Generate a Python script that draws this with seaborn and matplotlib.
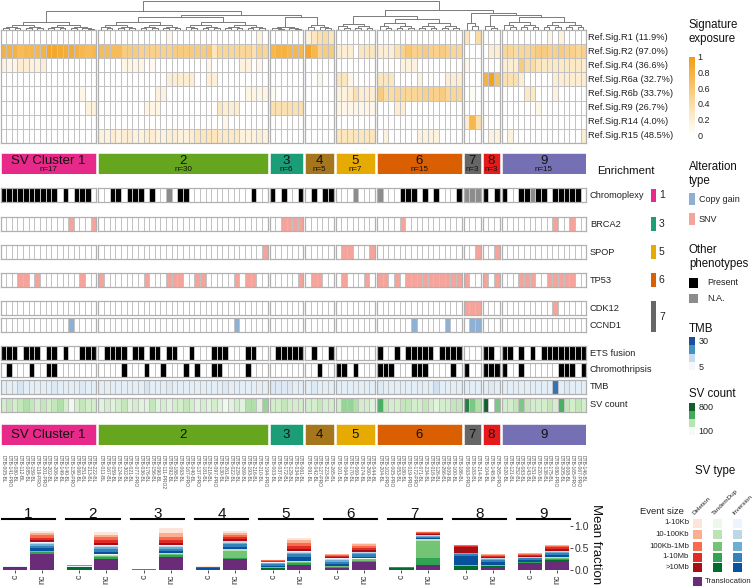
import numpy as np
import pandas as pd
import matplotlib
matplotlib.use("Agg")
import matplotlib.pyplot as plt
import seaborn as sns
from matplotlib.colors import LinearSegmentedColormap, ListedColormap, Normalize
from matplotlib.cm import ScalarMappable
from matplotlib.patches import Rectangle

sns.set_theme(style="white")
plt.rcParams["font.family"] = ["Liberation Sans", "DejaVu Sans"]

# ---------------- data ----------------
cluster_names = ["1", "2", "3", "4", "5", "6", "7", "8", "9"]
cluster_sizes = [17, 30, 6, 5, 7, 15, 3, 3, 15]
cluster_colors = ["#e7298a", "#66a61e", "#1b9e77", "#a6761d", "#e6ab02",
                  "#d95f02", "#666666", "#e41a1c", "#7570b3"]

sig_labels = ["Ref.Sig.R1 (11.9%)", "Ref.Sig.R2 (97.0%)", "Ref.Sig.R4 (36.6%)",
              "Ref.Sig.R6a (32.7%)", "Ref.Sig.R6b (33.7%)", "Ref.Sig.R9 (26.7%)",
              "Ref.Sig.R14 (4.0%)", "Ref.Sig.R15 (48.5%)"]

sig_R1 = ([0]*17 +
          [0]*12 + [0.1] + [0]*15 + [0.15, 0] +
          [0]*6 + [0.15, 0.3, 0.35, 0.4, 0.3] + [0]*7 + [0]*15 +
          [0.3, 0, 0.4] + [0]*3 + [0]*8 + [0.1, 0, 0.15, 0, 0, 0, 0])
sig_R2 = ([0.8, 0.8, 0.8, 0.7, 0.75, 0.75, 0.75, 0.8, 0.9, 0.9, 0.85, 0.85, 0.85, 0.8, 0.75, 0.7, 0.75] +
          [0.7, 0.7, 0.7, 0.7, 0.55, 0.55, 0.55, 0.5, 0.5, 0.5, 0.5, 0.5, 0.5, 0.55, 0.55, 0.55, 0.55,
           0.55, 0.55, 0.6, 0.3, 0.45, 0.45, 0.45, 0.45, 0.45, 0.45, 0.35, 0.5, 0.45] +
          [0.75, 0.8, 0.8, 0.75, 0.75, 0.75] + [0.9, 0.75, 0.5, 0.55, 0.55] +
          [0.2, 0.2, 0.2, 0, 0.3, 0.3, 0.3] +
          [0.2, 0.2, 0.2, 0.35, 0.5, 0.6, 0.5, 0.5, 0.55, 0.5, 0.5, 0.55, 0.5, 0.45, 0.45] +
          [0, 0, 0] + [0, 0.2, 0.2] +
          [0.45, 0.45, 0.4, 0.45, 0.45, 0.5, 0.55, 0.55, 0.5, 0.5, 0.55, 0.5, 0.5, 0.45, 0.5])
sig_R4 = ([0.15, 0.1, 0.1, 0.2, 0.2, 0.15, 0.15, 0.2] + [0]*9 +
          [0, 0, 0, 0, 0.12, 0.12, 0.12, 0.12, 0, 0.08, 0, 0, 0, 0, 0, 0, 0, 0, 0, 0.1,
           0, 0, 0, 0, 0, 0.15, 0.15, 0, 0.1, 0] +
          [0]*6 + [0]*5 + [0]*7 +
          [0, 0, 0, 0, 0.15, 0.15, 0.15, 0, 0, 0, 0, 0, 0, 0, 0] +
          [0.1, 0, 0] + [0]*3 +
          [0.2, 0.2, 0.2, 0.55, 0.4, 0.4, 0.3, 0.25, 0.25, 0.25, 0.25, 0.25, 0.25, 0.25, 0.2])
sig_R6a = ([0]*17 +
           [0]*12 + [0.2]*5 + [0, 0] + [0.18, 0.18] + [0]*9 +
           [0]*6 + [0, 0, 0.1, 0, 0] + [0.3, 0.3, 0.1, 0, 0, 0, 0] +
           [0.3, 0.3, 0.3, 0, 0, 0, 0, 0.15, 0, 0, 0, 0, 0.2, 0.2, 0.2] +
           [0]*3 + [0.8, 0.95, 0.65] +
           [0.35, 0.35, 0.35, 0.2, 0, 0, 0, 0, 0, 0.2, 0.2, 0.2, 0.2, 0.2, 0.2])
sig_R6b = ([0]*14 + [0.1, 0, 0] +
           [0]*10 + [0.15, 0.15] + [0]*14 + [0.12]*4 +
           [0.05, 0, 0, 0, 0, 0] + [0]*5 + [0.15, 0.15, 0.2, 0.35, 0.2, 0.2, 0.2] +
           [0.55, 0.4, 0.4, 0.45, 0.45, 0.45, 0.45, 0.45, 0.5, 0.5, 0.5, 0.55, 0.45, 0.45, 0.45] +
           [0, 0.05, 0] + [0]*3 +
           [0, 0, 0, 0, 0.25, 0.25, 0, 0, 0, 0.15, 0, 0, 0, 0, 0])
sig_R9 = ([0]*15 + [0.15, 0.15] +
          [0]*8 + [0.12]*3 + [0]*10 + [0.3, 0.2, 0.2, 0.2] + [0]*5 +
          [0.35]*6 + [0]*5 + [0.1]*7 +
          [0, 0, 0, 0.2, 0.2] + [0]*10 +
          [0]*3 + [0]*3 + [0]*6 + [0.1] + [0]*8)
sig_R14 = ([0]*17 + [0]*22 + [0.1] + [0]*7 + [0]*6 + [0]*5 + [0]*7 + [0]*15 +
           [0.2, 0.75, 0.35] + [0]*3 + [0]*15)
sig_R15 = ([0]*17 +
           [0.15, 0.15, 0.2, 0.15, 0.2, 0.2, 0.15, 0.15, 0.2, 0.2, 0.15, 0.15, 0.2, 0.2, 0.15, 0.15, 0.2,
            0.3, 0.3, 0.3, 0.3, 0.25, 0.25, 0.25, 0.25, 0.15, 0.15, 0.15, 0.2, 0.15] +
           [0]*6 + [0]*5 + [0.3]*7 +
           [0, 0.15, 0, 0, 0, 0, 0, 0.15, 0.15, 0.15, 0.15, 0, 0, 0, 0] +
           [0]*3 + [0, 0.15, 0.15] + [0, 0.15] + [0]*12 + [0.2])

# alteration codes: 0 none, 1 SNV, 2 copy gain, 3 present, 4 N.A.
alt_labels = ["Chromoplexy", "BRCA2", "SPOP", "TP53", "CDK12", "CCND1",
              "ETS fusion", "Chromothripsis"]
chromoplexy = ([3]*10 + [0, 3, 0, 3, 3, 3, 0] +
               [0, 0, 3, 3, 0, 3, 3, 3, 0, 3, 0, 0, 4, 0, 3, 3, 0, 0, 0, 0, 0, 0, 0, 0, 0, 0, 0, 3, 0, 0] +
               [3, 0, 3, 0, 0, 3] + [0, 3, 0, 3, 3] + [0, 0, 0, 4, 0, 0, 0] +
               [4, 0, 0, 0, 3, 3, 3, 0, 3, 0, 3, 0, 0, 0, 3] + [4, 4, 4] + [3, 0, 3] +
               [3, 0, 0, 3, 3, 4, 3, 3, 0, 3, 3, 3, 3, 3, 0])
brca2 = ([0]*12 + [1, 0, 0, 0, 1] + [0]*30 + [0, 0, 1, 1, 1, 1] + [0]*5 + [0]*7 +
         [0, 0, 0, 0, 1] + [0]*10 + [0]*3 + [0]*3 + [0]*9 + [1, 0, 0, 1, 0, 0])
spop = ([0]*17 + [0]*29 + [1] + [0]*6 + [0]*5 + [0, 1, 1, 0, 0, 0, 1] + [0]*15 +
        [0, 0, 1] + [0, 0, 1] + [0]*15)
tp53 = ([0, 0, 0, 1, 1, 0, 1, 0, 0, 0, 0, 0, 0, 0, 1, 0, 0] +
        [1, 0, 0, 0, 0, 0, 0, 0, 1, 0, 0, 0, 1, 1, 1, 0, 0, 1, 1, 0, 0, 0, 0, 0, 1, 0, 1, 1, 0, 0] +
        [0, 0, 0, 0, 0, 1] + [0, 1, 1, 0, 0] + [0, 1, 0, 0, 0, 1, 0] +
        [1, 1, 0, 1, 0, 1, 1, 1, 1, 1, 1, 1, 1, 1, 1] + [1, 0, 0] + [1, 0, 1] +
        [0, 0, 0, 1, 1, 1, 0, 0, 1, 1, 1, 1, 1, 0, 0])
cdk12 = ([0]*17 + [0]*30 + [0]*6 + [0]*5 + [0]*7 + [0]*15 + [1, 1, 1] + [0]*3 +
         [0]*9 + [1] + [0]*5)
ccnd1 = ([0]*12 + [2] + [0]*4 + [0]*24 + [2] + [0]*5 + [0]*6 + [0]*5 + [0]*7 +
         [0]*6 + [2] + [0]*5 + [2] + [0, 0] + [0, 2, 2] + [0]*3 + [0]*15)
ets = ([3, 3, 3, 0, 3, 3, 3, 0, 3, 3, 0, 3, 0, 0, 3, 3, 3] +
       [0, 3, 3, 3, 3, 0, 3, 3, 0, 3, 3, 0, 3, 3, 0, 0, 3, 0, 0, 0, 3, 3, 3, 0, 0, 0, 3, 3, 0, 0] +
       [0, 3, 3, 3, 3, 3] + [0, 3, 0, 0, 3] + [0]*7 +
       [3, 0, 0, 3, 0, 3, 3, 3, 3, 3, 0, 3, 3, 3, 3] + [0, 0, 0] + [3, 3, 0] +
       [3, 3, 0, 3, 0, 3, 0, 3, 3, 3, 3, 3, 3, 3, 3])
chromothripsis = ([0, 3, 0, 0, 0, 3, 0, 0, 3, 3, 0, 0, 0, 0, 0, 0, 0] +
                  [0, 0, 0, 0, 3, 0, 0, 0, 3, 0, 0, 3, 0, 0, 0, 3, 0, 3, 0, 0, 3, 3, 0, 0, 0, 0, 3, 0, 0, 0] +
                  [0]*6 + [0, 0, 3, 0, 0] + [3, 3, 0, 3, 0, 0, 0] +
                  [3, 3, 3, 0, 0, 0, 3, 3, 3, 0, 0, 0, 0, 3, 0] + [3, 0, 0] + [3, 3, 3] +
                  [3, 0, 0, 3, 0, 0, 0, 0, 0, 0, 3, 3, 3, 0, 3])
tmb = ([9, 9, 9, 11, 9, 9, 9, 9, 9, 10, 9, 9, 9, 9, 10, 9, 9] +
       [9, 9, 9, 9, 9, 9, 9, 9, 11, 9, 9, 9, 10, 9, 9, 9, 9, 9, 9, 9, 9, 9, 10, 9, 9, 9, 9, 9, 9, 9] +
       [10, 10, 10, 10, 9, 9] + [9, 10, 9, 9, 9] + [9, 9, 9, 9, 9, 9, 9] +
       [10, 9, 9, 9, 9, 9, 9, 9, 9, 9, 12, 9, 9, 9, 9] + [9, 9, 9] + [9, 10, 9] +
       [9, 9, 9, 9, 9, 9, 9, 9, 9, 25, 9, 10, 9, 9, 9])
sv_count = ([250, 300, 250, 300, 350, 300, 250, 300, 250, 300, 350, 250, 150, 250, 300, 250, 250] +
            [200, 250, 200, 250, 300, 200, 250, 200, 200, 300, 200, 250, 200, 250, 250, 300, 250, 200,
             250, 200, 250, 200, 150, 200, 250, 200, 350, 350, 200, 400] +
            [250, 250, 300, 250, 250, 250] + [250, 250, 300, 250, 250] +
            [250, 400, 400, 350, 250, 250, 200] +
            [550, 300, 250, 250, 300, 300, 250, 250, 300, 250, 200, 250, 250, 300, 300] +
            [700, 450, 350] + [800, 100, 450] +
            [250, 250, 300, 450, 300, 250, 250, 250, 300, 250, 550, 300, 250, 300, 250])

sample_ids = ["DTB-005-BL", "DTB-141-PRO", "DTB-080-BL", "DTB-112-BL", "DTB-085-BL", "DTB-159-BL",
              "DTB-119-PRO", "DTB-201-PRO", "DTB-202-BL", "DTB-206-BL", "DTB-149-BL", "DTB-140-BL",
              "DTB-135-PRO", "DTB-060-BL", "DTB-251-BL", "DTB-213-BL", "DTB-222-BL",
              "DTB-011-BL", "DTB-167-BL", "DTB-059-BL", "DTB-124-BL", "DTB-302-BL", "DTB-021-BL",
              "DTB-077-PRO", "DTB-036-BL", "DTB-176-BL", "DTB-156-BL", "DTB-090-BL", "DTB-111-PRO2",
              "DTB-092-BL", "DTB-188-BL", "DTB-063-BL", "DTB-167-PRO", "DTB-040-BL", "DTB-137-PRO",
              "DTB-181-BL", "DTB-218-BL", "DTB-097-PRO", "DTB-130-BL", "DTB-261-BL", "DTB-022-BL",
              "DTB-229-BL", "DTB-269-BL", "DTB-193-BL", "DTB-216-BL", "DTB-210-BL", "DTB-194-PRO",
              "DTB-003-BL", "DTB-037-BL", "DTB-172-BL", "DTB-129-BL", "DTB-034-BL", "DTB-061-BL",
              "DTB-091-BL", "DTB-042-BL", "DTB-127-PRO", "DTB-223-BL", "DTB-265-BL",
              "DTB-101-BL", "DTB-064-BL", "DTB-170-BL", "DTB-069-BL", "DTB-074-BL", "DTB-260-BL",
              "DTB-044-BL",
              "DTB-204-BL", "DTB-102-PRO", "DTB-005-PRO", "DTB-053-BL", "DTB-180-BL", "DTB-019-PRO",
              "DTB-172-PRO", "DTB-071-BL", "DTB-234-BL", "DTB-018-BL", "DTB-126-BL", "DTB-266-BL",
              "DTB-009-BL", "DTB-100-BL", "DTB-186-BL",
              "DTB-063-PRO", "DTB-183-BL", "DTB-214-BL",
              "DTB-104-BL", "DTB-148-BL", "DTB-265-PRO",
              "DTB-020-BL", "DTB-121-BL", "DTB-252-BL", "DTB-083-BL", "DTB-143-BL", "DTB-151-BL",
              "DTB-220-BL", "DTB-138-BL", "DTB-175-BL", "DTB-080-PRO", "DTB-205-BL", "DTB-008-BL",
              "DTB-165-PRO", "DTB-067-PRO", "DTB-146-BL"]

# bottom panel: mean fraction per SV class; order c1,nc1,c2,nc2,...,c9,nc9
translocation = [.04, .36, .03, .23, .005, .29, .02, .23, .03, .10, .04, .17, .03, .10, .01, .06, .15, .20]
tan_gt10M = [.003, .01, .005, .02, .001, .01, .002, .01, .01, .01, .01, .01, .005, .02, .07, .02, .01, .015]
tan_1_10M = [.003, .03, .005, .04, .001, .04, .003, .03, .01, .04, .015, .03, .005, .16, .02, .02, .01, .03]
tan_100k_1M = [.002, .025, .005, .035, .001, .03, .003, .16, .01, .03, .015, .03, .005, .38, .007, .01, .01, .025]
tan_10_100k = [.001, .01, .003, .02, 0, .015, .001, .04, .007, .02, .007, .015, .003, .03, .002, .007, .007, .015]
tan_1_10k = [.001, .005, .002, .005, 0, .005, .001, .01, .003, .01, .003, .005, .002, .01, .001, .003, .003, .005]
inv_gt10M = [.008, .05, .008, .05, .002, .04, .005, .04, .03, .08, .05, .04, .005, .02, .2, .05, .04, .04]
inv_1_10M = [.008, .06, .01, .07, .002, .05, .006, .06, .03, .06, .05, .05, .005, .03, .05, .05, .03, .05]
inv_100k_1M = [.007, .04, .006, .05, .002, .04, .005, .04, .02, .04, .04, .03, .003, .025, .02, .03, .02, .035]
inv_10_100k = [.004, .03, .004, .03, .001, .025, .002, .025, .015, .02, .02, .02, .001, .015, .007, .015, .012, .015]
inv_1_10k = [.003, .02, .002, .02, 0, .015, .002, .015, .005, .01, .01, .01, .001, .01, .003, .005, .008, .01]
del_gt10M = [.004, .03, .01, .04, .001, .04, .005, .03, .015, .05, .025, .04, .003, .01, .14, .02, .02, .03]
del_1_10M = [.005, .05, .01, .07, .001, .07, .01, .05, .02, .08, .03, .05, .003, .02, .02, .03, .025, .04]
del_100k_1M = [.005, .06, .01, .07, .001, .07, .008, .06, .01, .07, .025, .05, .002, .02, .01, .02, .02, .03]
del_10_100k = [.003, .05, .006, .05, .001, .10, .004, .04, .008, .05, .012, .03, .001, .01, .005, .01, .01, .02]
del_1_10k = [.003, .04, .004, .05, .001, .10, .003, .03, .007, .05, .008, .02, .001, .01, .005, .01, .005, .01]
group_labels = ["c", "nc"]

size_labels = ["1-10Kb", "10-100Kb", "100Kb-1Mb", "1-10Mb", ">10Mb"]
del_colors = ["#fee5d9", "#fcae91", "#fb6a4a", "#de2d26", "#a50f15"]
tan_colors = ["#edf8e9", "#bae4b3", "#74c476", "#31a354", "#006d2c"]
inv_colors = ["#eff3ff", "#bdd7e7", "#6baed6", "#3182bd", "#08519c"]
trans_color = "#6a2c79"

# dendrogram (cluster level): [height_px, left, right]; leaves ['c', idx, height_px]
dend_tree = [0.8,
             [11, ["c", 0, 22], [15, ["c", 1, 17], [16.5, ["c", 2, 27], ["c", 3, 25]]]],
             [10, [16, ["c", 4, 24], ["c", 5, 19]],
              [13, ["c", 6, 23], [15, ["c", 7, 26], ["c", 8, 17]]]]]

# ---------------- layout ----------------
W, H = 753, 587
fig = plt.figure(figsize=(W / 100, H / 100), dpi=100)


def add_ax(x0, y0, w, h):
    return fig.add_axes([x0 / W, 1 - (y0 + h) / H, w / W, h / H])


X0, COLW, GAP = 0.5, 5.64, 2.0
starts = np.concatenate([[0], np.cumsum(cluster_sizes)[:-1]])
cl_x = [X0 + s * COLW + k * GAP for k, s in enumerate(starts)]
col_cluster = np.repeat(np.arange(9), cluster_sizes)
col_center = np.array([X0 + (i + 0.5) * COLW + col_cluster[i] * GAP for i in range(101)])
total_w = cl_x[-1] + cluster_sizes[-1] * COLW - X0

grid_col = "#c2c2c2"


def heat_block(mat, y0, h, cmap, vmin, vmax):
    mat = np.asarray(mat, dtype=float)
    if mat.ndim == 1:
        mat = mat[None, :]
    for k in range(9):
        a, n = starts[k], cluster_sizes[k]
        ax = add_ax(cl_x[k], y0, n * COLW, h)
        sns.heatmap(mat[:, a:a + n], ax=ax, cmap=cmap, vmin=vmin, vmax=vmax, cbar=False,
                    linewidths=0.6, linecolor=grid_col, xticklabels=False, yticklabels=False)
        for s in ax.spines.values():
            s.set_visible(True)
            s.set_color("#b0b0b0")
            s.set_linewidth(0.9)


sig_cmap = LinearSegmentedColormap.from_list("sig", ["#ffffff", "#fbe3b5", "#f7c063", "#f39c12"])
alt_cmap = ListedColormap(["#ffffff", "#f4a49a", "#8fb0d6", "#000000", "#8c8c8c"])
tmb_cmap = LinearSegmentedColormap.from_list("tmb", ["#ffffff", "#c6dbef", "#3f8fd0", "#1a4e9c"])
sv_cmap = LinearSegmentedColormap.from_list("sv", ["#ffffff", "#b9e3b0", "#41ab5d", "#11602c"])

# signature heatmap
sig_mat = np.array([sig_R1, sig_R2, sig_R4, sig_R6a, sig_R6b, sig_R9, sig_R14, sig_R15])
assert sig_mat.shape == (8, 101)
SIG_TOP, SIG_ROWH = 30, 14.1
heat_block(sig_mat, SIG_TOP, 8 * SIG_ROWH, sig_cmap, 0, 1)

# alteration rows
alt_rows = [chromoplexy, brca2, spop, tp53, cdk12, ccnd1, ets, chromothripsis]
alt_tops = [188, 217, 245, 273, 301, 318, 346, 362.5]
for row, top in zip(alt_rows, alt_tops):
    assert len(row) == 101
    heat_block(row, top, 14, alt_cmap, -0.5, 4.5)
assert len(tmb) == 101 and len(sv_count) == 101
heat_block(tmb, 379.5, 14, tmb_cmap, 5, 30)
heat_block(sv_count, 397.5, 14, sv_cmap, 100, 800)

# dendrogram
ax_d = add_ax(X0, 0, total_w, 30)
ax_d.set_xlim(X0, X0 + total_w)
ax_d.set_ylim(30, 0)
ax_d.axis("off")
LEAF_Y = 30
dcol = "#7a7a7a"


def link(ax, yn, c1, c2):
    (x1, y1), (x2, y2) = c1, c2
    ax.plot([x1, x1, x2, x2], [y1, yn, yn, y2], color=dcol, lw=0.7, solid_capstyle="butt")
    return ((x1 + x2) / 2, yn)


def sub_tree(ax, cols, ytop):
    if len(cols) == 1:
        return (col_center[cols[0]], LEAF_Y)
    m = len(cols) // 2
    ych = ytop + (LEAF_Y - ytop) * 0.4
    left = sub_tree(ax, cols[:m], ych)
    right = sub_tree(ax, cols[m:], ych)
    return link(ax, ytop, left, right)


def draw_tree(ax, node):
    if node[0] == "c":
        k = node[1]
        cols = list(range(starts[k], starts[k] + cluster_sizes[k]))
        return sub_tree(ax, cols, node[2])
    yn, l, r = node
    return link(ax, yn, draw_tree(ax, l), draw_tree(ax, r))


draw_tree(ax_d, dend_tree)

# cluster bars
for yb, with_n in [(153, True), (424, False)]:
    ax_c = add_ax(X0, yb, total_w, 21)
    widths = [n * COLW for n in cluster_sizes]
    ax_c.bar(cl_x, 1, width=widths, align="edge", color=cluster_colors, edgecolor="white", linewidth=0.4)
    ax_c.set_xlim(X0, X0 + total_w)
    ax_c.set_ylim(1, 0)
    ax_c.axis("off")
    for k in range(9):
        xc = cl_x[k] + widths[k] / 2
        name = "SV Cluster 1" if k == 0 else cluster_names[k]
        if with_n:
            ax_c.text(xc, 0.36, name, ha="center", va="center", fontsize=9.5, color="#111111")
            ax_c.text(xc, 0.8, "n=%d" % cluster_sizes[k], ha="center", va="center", fontsize=5.8, color="#111111")
        else:
            ax_c.text(xc, 0.52, name, ha="center", va="center", fontsize=9.5, color="#111111")

# overlay for labels and legends (pixel coordinates)
ax_o = fig.add_axes([0, 0, 1, 1])
ax_o.set_xlim(0, W)
ax_o.set_ylim(H, 0)
ax_o.axis("off")

for i, lab in enumerate(sig_labels):
    ax_o.text(588, SIG_TOP + SIG_ROWH * (i + 0.5), lab, fontsize=6.7, va="center", ha="left", color="#222222")
for lab, top in zip(alt_labels + ["TMB", "SV count"], alt_tops + [379.5, 397.5]):
    ax_o.text(590, top + 7.3, lab, fontsize=6.7, va="center", ha="left", color="#222222")

# sample ids
for i, sid in enumerate(sample_ids):
    ax_o.text(col_center[i], 455, sid, rotation=270, fontsize=3.6, ha="center", va="top", color="#555555")

# enrichment
ax_o.text(597, 171, "Enrichment", fontsize=8.2, va="center", ha="left", color="#111111")
for (y0, y1, k) in [(189, 201.5, 0), (217, 231, 2), (245, 259, 4), (273, 287, 5), (301, 332, 6)]:
    ax_o.add_patch(Rectangle((651, y0), 5, y1 - y0, color=cluster_colors[k], lw=0))
    ax_o.text(659, (y0 + y1) / 2, cluster_names[k], fontsize=7.5, va="center", ha="left", color="#222222")

# legends
lf = 8.3
ax_o.text(689, 32, "Signature\nexposure", fontsize=lf, va="center", ha="left", linespacing=1.2, color="#111111")
cax = add_ax(689, 57, 6, 78)
cb = fig.colorbar(ScalarMappable(Normalize(0, 1), sig_cmap), cax=cax, ticks=[0, .2, .4, .6, .8, 1])
cb.ax.set_yticklabels(["0", "0.2", "0.4", "0.6", "0.8", "1"])
cb.ax.tick_params(length=0, labelsize=6.5, pad=2, colors="#222222")
cb.outline.set_visible(False)

ax_o.text(689, 174, "Alteration\ntype", fontsize=lf, va="center", ha="left", linespacing=1.15, color="#111111")
for y0, col, lab in [(193, "#8fb0d6", "Copy gain"), (213, "#f4a49a", "SNV")]:
    ax_o.add_patch(Rectangle((689, y0), 6, 12, color=col, lw=0))
    ax_o.text(699, y0 + 6, lab, fontsize=6.5, va="center", ha="left", color="#222222")
ax_o.text(689, 257, "Other\nphenotypes", fontsize=lf, va="center", ha="left", linespacing=1.15, color="#111111")
for y0, col, lab in [(278, "#000000", "Present"), (293.5, "#8c8c8c", "N.A.")]:
    ax_o.add_patch(Rectangle((689, y0), 9, 9.5, color=col, lw=0))
    ax_o.text(707, y0 + 4.8, lab, fontsize=6.5, va="center", ha="left", color="#222222")

ax_o.text(689, 329, "TMB", fontsize=lf, va="center", ha="left", color="#111111")
cax2 = add_ax(689, 337, 6, 33)
cb2 = fig.colorbar(ScalarMappable(Normalize(5, 30), ListedColormap(["#f4f8fc", "#c6dbef", "#4292c6", "#1f4e9c"])),
                   cax=cax2, ticks=[])
cb2.outline.set_visible(False)
ax_o.text(698.5, 342, "30", fontsize=6.5, va="center", ha="left", color="#222222")
ax_o.text(698.5, 367, "5", fontsize=6.5, va="center", ha="left", color="#222222")

ax_o.text(689, 394, "SV count", fontsize=lf, va="center", ha="left", color="#111111")
cax3 = add_ax(689, 403, 6, 32)
cb3 = fig.colorbar(ScalarMappable(Normalize(100, 800), ListedColormap(["#f5fbf3", "#b9e3b0", "#41ab5d", "#11602c"])),
                   cax=cax3, ticks=[])
cb3.outline.set_visible(False)
ax_o.text(698.5, 407, "800", fontsize=6.5, va="center", ha="left", color="#222222")
ax_o.text(698.5, 431, "100", fontsize=6.5, va="center", ha="left", color="#222222")

# SV type legend
ax_o.text(715, 471, "SV type", fontsize=lf, va="center", ha="center", color="#111111")
for xh, lab in [(695, "Deletion"), (715, "TandemDup"), (735, "Inversion")]:
    ax_o.text(xh, 516, lab, fontsize=4.6, rotation=45, ha="left", va="bottom", rotation_mode="anchor", color="#222222")
ax_o.text(684, 512, "Event size", fontsize=6.8, va="center", ha="right", color="#222222")
row_y = [523, 534.5, 546, 557, 567.5]
for j, (lab, yc) in enumerate(zip(size_labels, row_y)):
    ax_o.text(689, yc, lab, fontsize=5.6, va="center", ha="right", color="#222222")
    for xs, cols in [(693, del_colors), (713, tan_colors), (733, inv_colors)]:
        ax_o.add_patch(Rectangle((xs, yc - 4.5), 9, 9, color=cols[j], lw=0))
ax_o.add_patch(Rectangle((693, 577), 9, 9, color=trans_color, lw=0))
ax_o.text(705, 581.5, "Translocation", fontsize=5.6, va="center", ha="left", color="#222222")

# bottom stacked bars
layers = [(translocation, trans_color),
          (tan_gt10M, tan_colors[4]), (tan_1_10M, tan_colors[3]), (tan_100k_1M, tan_colors[2]),
          (tan_10_100k, tan_colors[1]), (tan_1_10k, tan_colors[0]),
          (inv_gt10M, inv_colors[4]), (inv_1_10M, inv_colors[3]), (inv_100k_1M, inv_colors[2]),
          (inv_10_100k, inv_colors[1]), (inv_1_10k, inv_colors[0]),
          (del_gt10M, del_colors[4]), (del_1_10M, del_colors[3]), (del_100k_1M, del_colors[2]),
          (del_10_100k, del_colors[1]), (del_1_10k, del_colors[0])]
vals = np.array([l[0] for l in layers])
cum = np.cumsum(vals, axis=0)
PX_PER_UNIT = 44.3
for k in range(9):
    ax = add_ax(1.7 + k * 64.4, 519, 53.5, 51)
    for j in range(len(layers) - 1, -1, -1):
        df = pd.DataFrame({"group": group_labels, "frac": cum[j, 2 * k:2 * k + 2]})
        sns.barplot(data=df, x="group", y="frac", color=layers[j][1], saturation=1, width=0.9,
                    errorbar=None, linewidth=0, ax=ax)
    ax.set_ylim(0, 51 / PX_PER_UNIT)
    ax.set_xlim(-0.5, 1.5)
    ax.set_xlabel("")
    ax.set_ylabel("")
    for s in ["left", "right", "bottom"]:
        ax.spines[s].set_visible(False)
    ax.spines["top"].set_visible(True)
    ax.spines["top"].set_color("black")
    ax.spines["top"].set_linewidth(1.5)
    ax.set_title(cluster_names[k], fontsize=11, pad=0.5, color="#111111")
    ax.tick_params(axis="x", bottom=True, length=2, width=0.6, labelsize=6.5, rotation=90, pad=1, colors="#333333")
    ax.set_facecolor("none")
    if k == 8:
        ax.yaxis.tick_right()
        ax.set_yticks([0, 0.5, 1.0])
        ax.set_yticklabels(["0.0", "0.5", "1.0"])
        ax.tick_params(axis="y", right=True, length=2, width=0.6, labelsize=7.5, pad=1, colors="#333333")
        ax.yaxis.set_label_position("right")
        ax.set_ylabel("Mean fraction", rotation=270, fontsize=9.5, labelpad=9, color="#111111")
    else:
        ax.set_yticks([])

fig.savefig("out.png", dpi=100)
